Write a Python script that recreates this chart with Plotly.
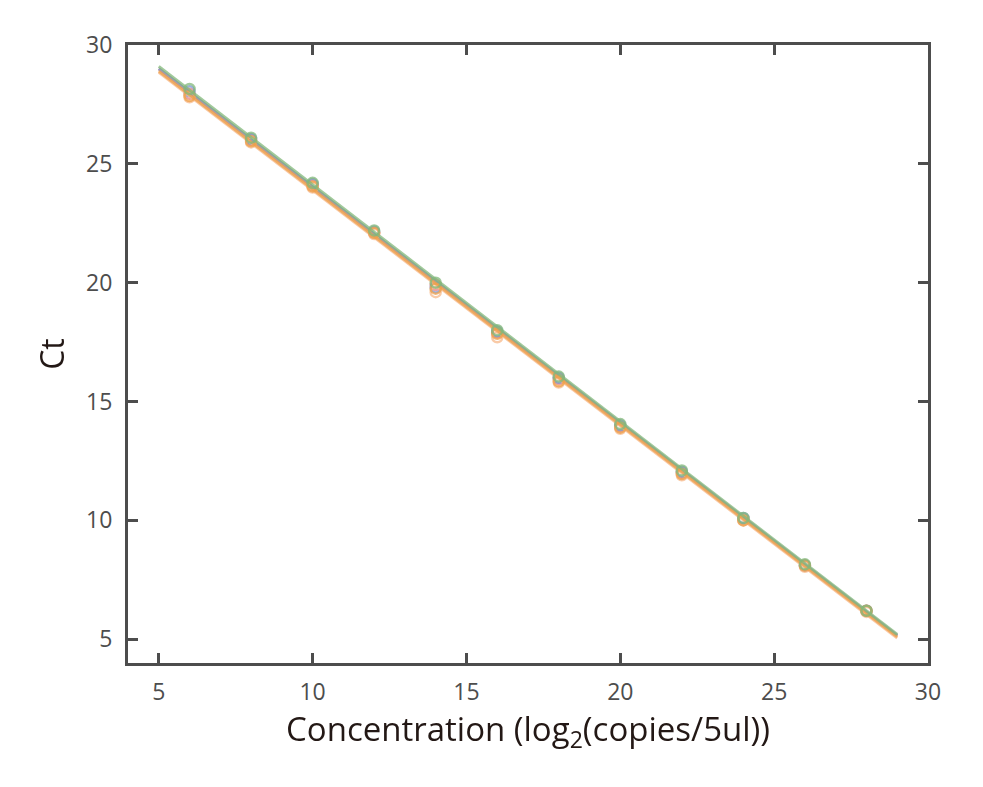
import plotly.graph_objects as go

# qPCR standard curve: Ct vs log2 concentration, several replicate series
conc = [6, 8, 10, 12, 14, 16, 18, 20, 22, 24, 26, 28]

ct_green = [28.15, 26.1, 24.2, 22.2, 20.0, 18.0, 16.05, 14.05, 12.1, 10.1, 8.15, 6.2]
ct_blue = [28.05, 26.05, 24.15, 22.15, 19.8, 17.95, 16.0, 14.0, 12.05, 10.1, 8.1, 6.2]
ct_red = [27.95, 26.0, 24.1, 22.1, 19.9, 17.9, 15.95, 13.95, 12.0, 10.05, 8.1, 6.2]
ct_orange = [27.85, 25.95, 24.05, 22.1, 19.75, 17.85, 15.85, 13.9, 11.95, 10.0, 8.1, 6.2]
ct_peach = [27.8, 25.9, 24.0, 22.05, 19.6, 17.7, 15.8, 13.85, 11.9, 10.0, 8.05, 6.15]

# fitted standard-curve end points
fit_x = [5, 29]
fit_green = [29.1, 5.2]
fit_blue = [29.0, 5.15]
fit_red = [29.0, 5.15]
fit_orange = [28.9, 5.1]
fit_peach = [28.85, 5.05]

SERIES = [
    ("#e88080", ct_red, fit_red),
    ("#7a96d0", ct_blue, fit_blue),
    ("#f7b98a", ct_peach, fit_peach),
    ("#eea04a", ct_orange, fit_orange),
    ("#82b87a", ct_green, fit_green),
]

fig = go.Figure()
for color, ct, fit in SERIES:
    fig.add_trace(go.Scatter(x=fit_x, y=fit, mode="lines", opacity=0.75,
                             line=dict(color=color, width=3), showlegend=False))
    fig.add_trace(go.Scatter(x=conc, y=ct, mode="markers", opacity=0.75,
                             marker=dict(symbol="circle-open", size=10, color=color,
                                         line=dict(width=2.5, color=color)),
                             showlegend=False))

axis_common = dict(
    showgrid=False, zeroline=False, showline=True, linecolor="#4d4d4d", linewidth=3,
    mirror="ticks", ticks="inside", ticklen=10, tickwidth=2.5, tickcolor="#4d4d4d",
    tickfont=dict(family="Open Sans", size=23, color="#4d4d4d"),
)

# note: page body adds an 8px offset, margins are set relative to that
fig.update_layout(
    width=983, height=787,
    plot_bgcolor="white", paper_bgcolor="white",
    margin=dict(l=120, r=63, t=37, b=132),
    xaxis=dict(range=[4, 30], tickvals=[5, 10, 15, 20, 25, 30],
               ticklabelstandoff=6, **axis_common),
    yaxis=dict(range=[4, 30], tickvals=[5, 10, 15, 20, 25, 30],
               ticklabelstandoff=8,
               title=dict(text="Ct", standoff=12,
                          font=dict(family="Open Sans", size=32, color="#231815")),
               **axis_common),
)

# x title as an annotation so it sits right under the tick labels
fig.add_annotation(
    text="Concentration (log<sub>2</sub>(copies/5ul))",
    xref="paper", yref="paper", x=0.5, y=-0.066, yanchor="top",
    showarrow=False, font=dict(family="Open Sans", size=33, color="#231815"),
)

fig.write_html("out.html")
